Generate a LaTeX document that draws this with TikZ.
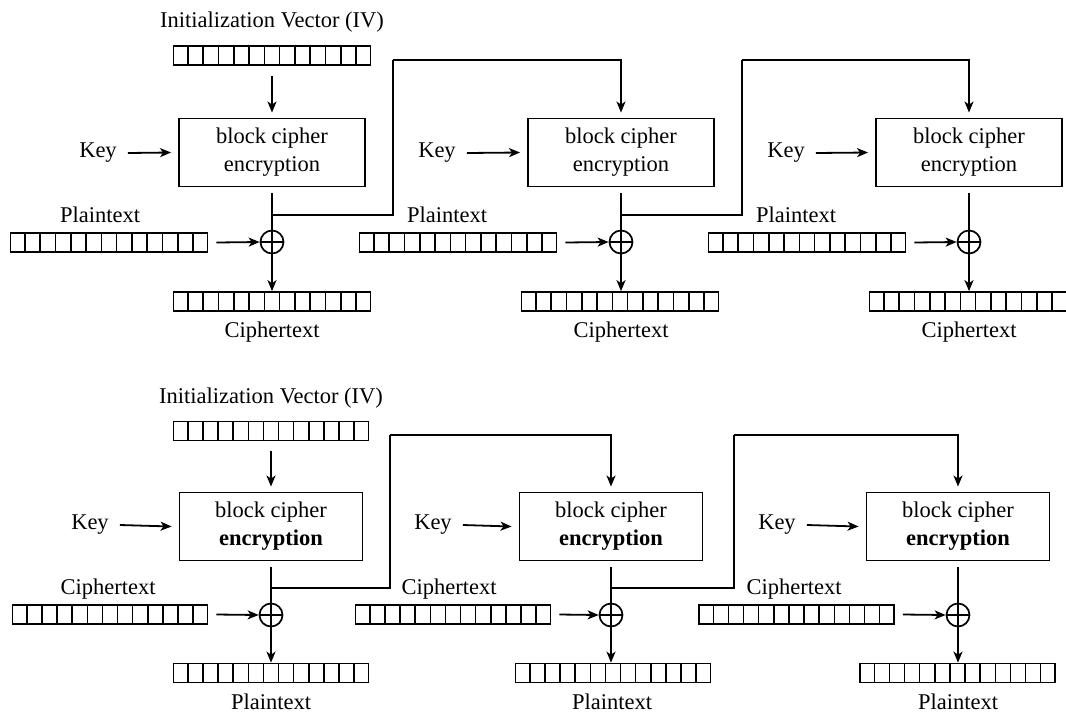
\documentclass[tikz,border=0pt]{standalone}
\usepackage{fontspec}
\setmainfont{Liberation Serif}
\usetikzlibrary{arrows.meta,calc}
\newcommand\register[4]{%
  \node[regbox,minimum width=#4pt] (#1) at (#2,#3) {};
  \foreach \i in {1,...,12}
    \draw[cell] ($(#1.north west)!\i/13!(#1.north east)$) -- ($(#1.south west)!\i/13!(#1.south east)$);
}
\begin{document}
\begin{tikzpicture}[x=1pt,y=-1pt,
  every node/.style={font=\fontsize{22.5}{28}\selectfont},
  lbl/.style={inner sep=0pt},
  cipherbox/.style={draw,line width=1.9pt,minimum height=68pt,align=center,inner sep=0pt},
  regbox/.style={draw,line width=1.7pt,minimum height=19pt,inner sep=0pt},
  cell/.style={line width=1.5pt},
  xorop/.style={draw,circle,line width=1.7pt,minimum size=23pt,inner sep=0pt},
  conn/.style={line width=1.8pt},
  arr/.style={conn,-{Stealth[length=11pt,width=9pt,inset=3pt]}},
]
\useasboundingbox (0,0) rectangle (1066,713);

% ================= TOP ROW =================
\node[lbl] (ivTlbl) at (272,22) {Initialization Vector (IV)};
\register{ivT}{272}{55.5}{197}
% stage 1
\node[cipherbox,minimum width=186pt] (BT1) at (272,152.5) {block cipher\\encryption};
\node[lbl] (kT1) at (98,153) {Key};
\node[xorop] (xT1) at (272,242) {};
\node[lbl] (pT1lbl) at (100,215) {Plaintext};
\register{pT1}{109}{242.5}{197}
\register{cT1}{272}{301.5}{197}
\node[lbl] (cT1lbl) at (272,332) {Ciphertext};
% stage 2
\node[cipherbox,minimum width=186pt] (BT2) at (621,152.5) {block cipher\\encryption};
\node[lbl] (kT2) at (437,153) {Key};
\node[xorop] (xT2) at (621,242) {};
\node[lbl] (pT2lbl) at (447,215) {Plaintext};
\register{pT2}{458}{242.5}{197}
\register{cT2}{620}{301.5}{197}
\node[lbl] (cT2lbl) at (621,332) {Ciphertext};
% stage 3
\node[cipherbox,minimum width=186pt] (BT3) at (969,152.5) {block cipher\\encryption};
\node[lbl] (kT3) at (786,153) {Key};
\node[xorop] (xT3) at (969,242) {};
\node[lbl] (pT3lbl) at (796,215) {Plaintext};
\register{pT3}{807}{242.5}{197}
\register{cT3}{968}{301.5}{197}
\node[lbl] (cT3lbl) at (969,332) {Ciphertext};

\coordinate (tT1) at (272,215);
\coordinate (uT1) at (393,60);
\coordinate (tT2) at (621,215);
\coordinate (uT2) at (742,60);

\draw[arr] ([yshift=-10pt]ivT.south) -- ([yshift=5pt]BT1.north);
\foreach \s in {1,2,3}{
  \draw[arr] ([xshift=11pt]kT\s.east) -- ([xshift=-7pt]BT\s.west);
  \draw[conn] ([yshift=-6pt]BT\s.south) -- (xT\s.north);
  \draw[conn] (xT\s.west) -- (xT\s.east);
  \draw[arr] (xT\s.north) -- (xT\s.north |- cT\s.north);
  \draw[arr] ([xshift=8pt]pT\s.east) -- (xT\s.west);
}
\draw[conn] (tT1) -| (uT1);
\draw[arr] (uT1) -| ([yshift=5pt]BT2.north);
\draw[conn] (tT2) -| (uT2);
\draw[arr] (uT2) -| ([yshift=5pt]BT3.north);

% ================= BOTTOM ROW =================
\node[lbl] (ivBlbl) at (271,398) {Initialization Vector (IV)};
\register{ivB}{271}{431}{195}
% stage 1
\node[cipherbox,minimum width=183pt] (BB1) at (271,526.5) {block cipher\\\textbf{encryption}};
\node[lbl] (kB1) at (90,525) {Key};
\node[xorop] (xB1) at (271,615) {};
\node[lbl] (cB1lbl) at (108,589) {Ciphertext};
\register{cB1}{110}{614.5}{195}
\register{pB1}{271}{673}{195}
\node[lbl] (pB1lbl) at (271,702) {Plaintext};
% stage 2
\node[cipherbox,minimum width=183pt] (BB2) at (611,526.5) {block cipher\\\textbf{encryption}};
\node[lbl] (kB2) at (433,525) {Key};
\node[xorop] (xB2) at (611,615) {};
\node[lbl] (cB2lbl) at (449,589) {Ciphertext};
\register{cB2}{453}{614.5}{195}
\register{pB2}{613}{673}{195}
\node[lbl] (pB2lbl) at (612,702) {Plaintext};
% stage 3
\node[cipherbox,minimum width=183pt] (BB3) at (958,526.5) {block cipher\\\textbf{encryption}};
\node[lbl] (kB3) at (777,525) {Key};
\node[xorop] (xB3) at (958,615) {};
\node[lbl] (cB3lbl) at (794,589) {Ciphertext};
\register{cB3}{796.5}{614.5}{195}
\register{pB3}{957.5}{673}{195}
\node[lbl] (pB3lbl) at (958,702) {Plaintext};

\coordinate (tB1) at (271,588);
\coordinate (uB1) at (390,435);
\coordinate (tB2) at (611,588);
\coordinate (uB2) at (734,435);

\draw[arr] ([yshift=-10pt]ivB.south) -- ([yshift=5pt]BB1.north);
\foreach \s in {1,2,3}{
  \draw[arr] ([xshift=11pt]kB\s.east) -- ([xshift=-7pt]BB\s.west);
  \draw[conn] ([yshift=-6pt]BB\s.south) -- (xB\s.north);
  \draw[conn] (xB\s.west) -- (xB\s.east);
  \draw[arr] (xB\s.north) -- (xB\s.north |- pB\s.north);
  \draw[arr] ([xshift=8pt]cB\s.east) -- (xB\s.west);
}
\draw[conn] (tB1) -| (uB1);
\draw[arr] (uB1) -| ([yshift=5pt]BB2.north);
\draw[conn] (tB2) -| (uB2);
\draw[arr] (uB2) -| ([yshift=5pt]BB3.north);
\end{tikzpicture}
\end{document}
